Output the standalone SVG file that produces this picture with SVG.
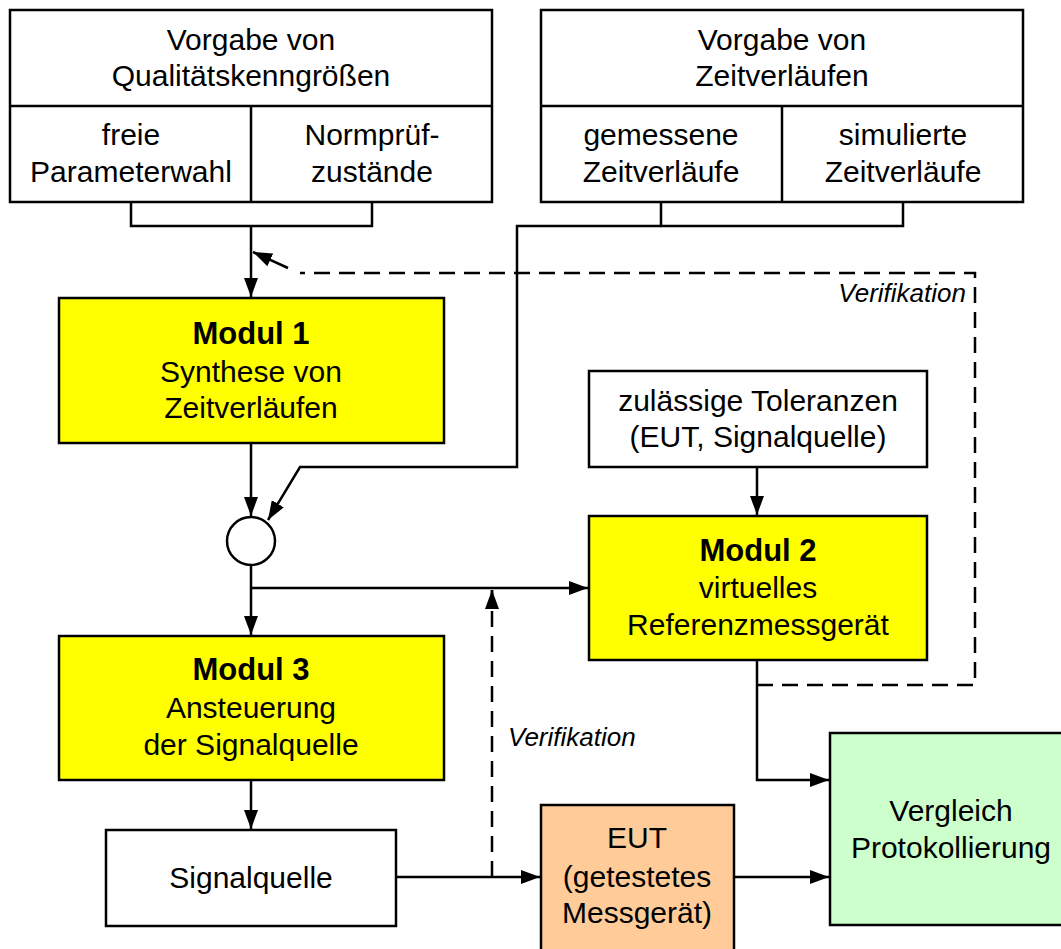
<svg xmlns="http://www.w3.org/2000/svg" width="1061" height="949" viewBox="0 0 1061 949">
<style>
.box{stroke:#000;stroke-width:2.5;fill:#fff}
.y{fill:#ffff00}
.o{fill:#ffcc99}
.g{fill:#ccffcc}
text{font-family:"Liberation Sans",Arial,sans-serif;font-size:30px;fill:#000;text-anchor:middle}
.b{font-weight:bold;font-size:31px}
.it{font-style:italic;font-size:26px}
.c{fill:none;stroke:#000;stroke-width:2.5}
.d{stroke-dasharray:16 9}
</style>
<defs>
<marker id="ah" markerUnits="userSpaceOnUse" markerWidth="20" markerHeight="14" refX="19" refY="7" orient="auto">
<path d="M0,0 L19,7 L0,14 z" fill="#000"/>
</marker>
</defs>
<rect width="1061" height="949" fill="#fff"/>
<g id="connectors">
<path class="c" d="M131,202 V226 H372 V202"/>
<path class="c" d="M251,226 V297" marker-end="url(#ah)"/>
<path class="c" d="M661,202 V226 H903 V202"/>
<path class="c" d="M661,226 H517 V467 H300 L268,520" marker-end="url(#ah)"/>
<path class="c d" d="M757,685 H975 V273 H300"/>
<path class="c" d="M288,268 L253,252" marker-end="url(#ah)"/>
<path class="c" d="M251,443 V516" marker-end="url(#ah)"/>
<path class="c" d="M251,565 V635" marker-end="url(#ah)"/>
<path class="c" d="M251,588 H588" marker-end="url(#ah)"/>
<path class="c d" d="M492,877 V590"/>
<path class="c" d="M492,606 V590" marker-end="url(#ah)"/>
<path class="c" d="M757,467 V515" marker-end="url(#ah)"/>
<path class="c" d="M251,780 V829" marker-end="url(#ah)"/>
<path class="c" d="M396,877 H540" marker-end="url(#ah)"/>
<path class="c" d="M734,877 H829" marker-end="url(#ah)"/>
<path class="c" d="M757,660 V780 H829" marker-end="url(#ah)"/>
<text class="it" x="966" y="302" style="text-anchor:end">Verifikation</text>
<text class="it" x="508" y="746" style="text-anchor:start">Verifikation</text>
</g>
<g id="qualitaet">
<rect class="box" x="10" y="10" width="482" height="192"/>
<line class="c" x1="10" y1="106" x2="492" y2="106"/>
<line class="c" x1="251" y1="106" x2="251" y2="202"/>
<text x="251" y="50">Vorgabe von</text>
<text x="251" y="86">Qualitätskenngrößen</text>
<text x="131" y="145">freie</text>
<text x="131" y="182">Parameterwahl</text>
<text x="372" y="145">Normprüf-</text>
<text x="372" y="182">zustände</text>
</g>
<g id="zeitverlaeufe">
<rect class="box" x="541" y="10" width="482" height="192"/>
<line class="c" x1="541" y1="106" x2="1023" y2="106"/>
<line class="c" x1="782" y1="106" x2="782" y2="202"/>
<text x="782" y="50">Vorgabe von</text>
<text x="782" y="86">Zeitverläufen</text>
<text x="661" y="145">gemessene</text>
<text x="661" y="182">Zeitverläufe</text>
<text x="903" y="145">simulierte</text>
<text x="903" y="182">Zeitverläufe</text>
</g>
<g id="modul1">
<rect class="box y" x="59" y="298" width="385" height="145"/>
<text class="b" x="251" y="344">Modul 1</text>
<text x="251" y="382">Synthese von</text>
<text x="251" y="418">Zeitverläufen</text>
</g>
<g id="junction">
<circle class="box" cx="251" cy="541" r="24"/>
</g>
<g id="toleranzen">
<rect class="box" x="589" y="371" width="338" height="96"/>
<text x="758" y="411">zulässige Toleranzen</text>
<text x="758" y="447">(EUT, Signalquelle)</text>
</g>
<g id="modul2">
<rect class="box y" x="589" y="516" width="338" height="144"/>
<text class="b" x="758" y="561">Modul 2</text>
<text x="758" y="598">virtuelles</text>
<text x="758" y="635">Referenzmessgerät</text>
</g>
<g id="modul3">
<rect class="box y" x="59" y="636" width="385" height="144"/>
<text class="b" x="251" y="680">Modul 3</text>
<text x="251" y="718">Ansteuerung</text>
<text x="251" y="755">der Signalquelle</text>
</g>
<g id="signalquelle">
<rect class="box" x="106" y="830" width="290" height="96"/>
<text x="251" y="888">Signalquelle</text>
</g>
<g id="eut">
<rect class="box o" x="541" y="805" width="193" height="160"/>
<text x="637" y="848">EUT</text>
<text x="637" y="887">(getestetes</text>
<text x="637" y="923">Messgerät)</text>
</g>
<g id="vergleich">
<rect class="box g" x="830" y="733" width="240" height="192"/>
<text x="951" y="821">Vergleich</text>
<text x="951" y="858">Protokollierung</text>
</g>
</svg>
